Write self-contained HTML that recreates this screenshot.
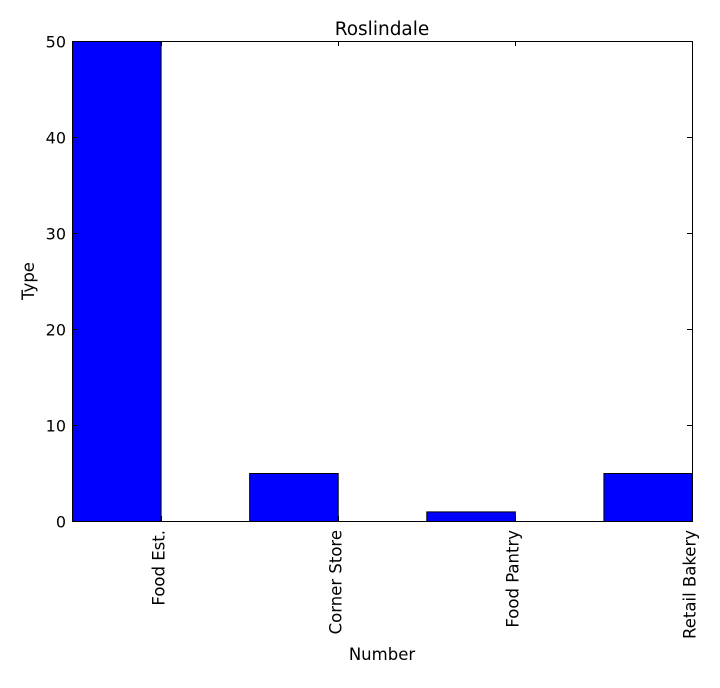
<!DOCTYPE html>
<html><head><meta charset="utf-8"><style>
body{margin:0;background:#fff;}
svg text{font-family:"DejaVu Sans","Liberation Sans",sans-serif;fill:#000;}
</style></head><body>
<svg width="720" height="683" xmlns="http://www.w3.org/2000/svg">
<rect width="720" height="683" fill="#fff"/>
<g id="bars"></g>
<rect x="72.5" y="41.5" width="620" height="480" fill="none" stroke="#000" stroke-width="1"/>
<g id="axes"></g>
<text x="382" y="35" font-size="18.5" text-anchor="middle">Roslindale</text>
<text x="34" y="281" font-size="16.5" text-anchor="middle" transform="rotate(-90 34 281)">Type</text>
<text x="382" y="660" font-size="16.5" text-anchor="middle">Number</text>
</svg>
<script>
const categories=["Food Est.","Corner Store","Food Pantry","Retail Bakery"];
const values=[50,5,1,5];
const yTicks=[0,10,20,30,40,50];
const L=72,R=692,T=41,B=521;
const xmin=-0.5,xmax=3.0,ymin=0,ymax=50;
const x=v=>L+(v-xmin)/(xmax-xmin)*(R-L);
const y=v=>B-(v-ymin)/(ymax-ymin)*(B-T);
const NS="http://www.w3.org/2000/svg";
const bars=document.getElementById('bars'),axes=document.getElementById('axes');
function mk(tag,attrs,parent){const e=document.createElementNS(NS,tag);for(const k in attrs)e.setAttribute(k,attrs[k]);parent.appendChild(e);return e;}
values.forEach((v,i)=>{
 const r=mk('rect',{x:x(i-0.5)+0.5,y:y(v)+0.5,width:x(i)-x(i-0.5),height:y(0)-y(v),fill:'#0000ff',stroke:'#000','stroke-width':1},bars);
 
 
});
yTicks.forEach(t=>{
 const yy=Math.round(y(t))+0.5;
 mk('line',{x1:L,x2:L+5,y1:yy,y2:yy,stroke:'#000'},axes);
 mk('line',{x1:R-5,x2:R,y1:yy,y2:yy,stroke:'#000'},axes);
 const tx=mk('text',{x:L-6,y:yy+6,'font-size':16,'text-anchor':'end'},axes);
 tx.textContent=t;
 
 
});
categories.forEach((c,i)=>{
 const xx=Math.round(x(i))+0.5;
 mk('line',{x1:xx,x2:xx,y1:B,y2:B-5,stroke:'#000'},axes);
 mk('line',{x1:xx,x2:xx,y1:T,y2:T+5,stroke:'#000'},axes);
 const tx=mk('text',{x:xx+3,y:530,'font-size':16.5,'text-anchor':'end',transform:`rotate(-90 ${xx+3} 530)`},axes);
 tx.textContent=c;
 
 
});
</script>
</body></html>
